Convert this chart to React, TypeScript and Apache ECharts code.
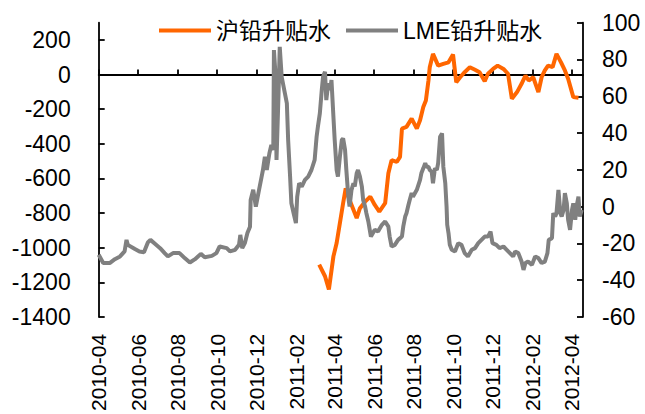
import React, { useEffect, useRef } from 'react';
import * as echarts from 'echarts';

const seriesNames = ['沪铅升贴水', 'LME铅升贴水'];

const shfeDates = [
  '2011-03-08', '2011-03-17', '2011-03-23', '2011-03-30', '2011-04-04', '2011-04-09', '2011-04-14', '2011-04-18',
  '2011-04-24', '2011-04-30', '2011-05-05', '2011-05-10', '2011-05-18', '2011-05-26', '2011-06-02', '2011-06-09',
  '2011-06-18', '2011-06-23', '2011-06-28', '2011-07-06', '2011-07-11', '2011-07-14', '2011-07-21', '2011-07-29',
  '2011-08-06', '2011-08-11', '2011-08-16', '2011-08-20', '2011-08-24', '2011-08-26', '2011-08-31', '2011-09-08',
  '2011-09-16', '2011-09-24', '2011-10-01', '2011-10-06', '2011-10-12', '2011-10-19', '2011-10-27', '2011-11-04',
  '2011-11-11', '2011-11-19', '2011-11-24', '2011-12-02', '2011-12-09', '2011-12-18', '2011-12-25', '2011-12-31',
  '2012-01-08', '2012-01-15', '2012-01-21', '2012-01-26', '2012-02-02', '2012-02-10', '2012-02-15', '2012-02-20',
  '2012-02-25', '2012-03-03', '2012-03-09', '2012-03-16', '2012-03-22', '2012-03-27', '2012-04-04', '2012-04-12',
];
const shfeValues = [
  -1098, -1165, -1241, -1050, -973, -858, -743, -657,
  -724, -781, -829, -772, -734, -705, -753, -791,
  -743, -570, -494, -504, -475, -312, -302, -254,
  -312, -264, -187, -149, -34, 43, 120, 52,
  62, 71, 116, -44, -15, 14, 43, 28,
  14, -38, 5, 33, 52, 33, 5, -139,
  -101, -53, -5, -34, -15, -101, -15, 24,
  52, 43, 120, 71, 24, -24, -130, -133,
];

const lmeDates = [
  '2010-04-01', '2010-04-08', '2010-04-18', '2010-04-26', '2010-05-04', '2010-05-11', '2010-05-14', '2010-05-16',
  '2010-05-27', '2010-06-03', '2010-06-10', '2010-06-16', '2010-06-20', '2010-06-27', '2010-07-05', '2010-07-12',
  '2010-07-17', '2010-07-25', '2010-08-04', '2010-08-12', '2010-08-20', '2010-08-28', '2010-09-06', '2010-09-12',
  '2010-09-23', '2010-09-30', '2010-10-05', '2010-10-16', '2010-10-21', '2010-10-29', '2010-11-04', '2010-11-06',
  '2010-11-09', '2010-11-13', '2010-11-17', '2010-11-21', '2010-11-22', '2010-11-26', '2010-11-30', '2010-12-04',
  '2010-12-09', '2010-12-11', '2010-12-14', '2010-12-17', '2010-12-21', '2010-12-24', '2010-12-27', '2010-12-28',
  '2010-12-30', '2011-01-01', '2011-01-04', '2011-01-06', '2011-01-09', '2011-01-14', '2011-01-17', '2011-01-19',
  '2011-01-22', '2011-01-24', '2011-01-28', '2011-01-31', '2011-02-02', '2011-02-05', '2011-02-09', '2011-02-14',
  '2011-02-19', '2011-02-24', '2011-03-01', '2011-03-04', '2011-03-06', '2011-03-09', '2011-03-12', '2011-03-14',
  '2011-03-17', '2011-03-19', '2011-03-22', '2011-03-25', '2011-03-27', '2011-03-30', '2011-04-01', '2011-04-04',
  '2011-04-06', '2011-04-09', '2011-04-12', '2011-04-14', '2011-04-17', '2011-04-19', '2011-04-22', '2011-04-24',
  '2011-04-27', '2011-04-30', '2011-05-02', '2011-05-05', '2011-05-07', '2011-05-10', '2011-05-13', '2011-05-15',
  '2011-05-18', '2011-05-20', '2011-05-23', '2011-05-27', '2011-06-02', '2011-06-07', '2011-06-13', '2011-06-18',
  '2011-06-23', '2011-06-25', '2011-06-28', '2011-07-03', '2011-07-08', '2011-07-14', '2011-07-16', '2011-07-19',
  '2011-07-21', '2011-07-24', '2011-07-26', '2011-07-29', '2011-07-31', '2011-08-06', '2011-08-11', '2011-08-13',
  '2011-08-16', '2011-08-19', '2011-08-21', '2011-08-24', '2011-08-26', '2011-08-29', '2011-08-31', '2011-09-03',
  '2011-09-06', '2011-09-08', '2011-09-11', '2011-09-14', '2011-09-16', '2011-09-19', '2011-09-21', '2011-09-22',
  '2011-09-24', '2011-09-26', '2011-09-29', '2011-10-04', '2011-10-09', '2011-10-14', '2011-10-19', '2011-10-24',
  '2011-10-30', '2011-11-04', '2011-11-09', '2011-11-14', '2011-11-19', '2011-11-24', '2011-11-28', '2011-12-01',
  '2011-12-07', '2011-12-12', '2011-12-18', '2011-12-23', '2011-12-28', '2012-01-02', '2012-01-05', '2012-01-10',
  '2012-01-15', '2012-01-18', '2012-01-21', '2012-01-25', '2012-01-31', '2012-02-05', '2012-02-10', '2012-02-15',
  '2012-02-20', '2012-02-24', '2012-02-26', '2012-03-02', '2012-03-04', '2012-03-07', '2012-03-09', '2012-03-12',
  '2012-03-15', '2012-03-17', '2012-03-20', '2012-03-22', '2012-03-25', '2012-03-27', '2012-03-30', '2012-04-02',
  '2012-04-04', '2012-04-07', '2012-04-09', '2012-04-12', '2012-04-14', '2012-04-17',
];
const lmeValues = [
  -26.2, -30.7, -30.7, -28.6, -27.1, -24.4, -18.1, -20.8,
  -23.1, -24.4, -24.8, -19.5, -18.1, -20.2, -22.6, -25.3,
  -27.1, -25.3, -25.3, -28.0, -30.4, -28.6, -25.7, -27.5,
  -26.8, -25.3, -21.7, -22.6, -24.4, -23.5, -20.8, -15.4,
  -22.6, -19.9, -14.4, -10.9, 3.6, 9.1, 0, 7.3,
  16.3, 19.9, 27.1, 19.9, 29.0, 33.5, 30.8, 85.1,
  74.2, 25.4, 59.7, 86.9, 70.6, 61.6, 56.1, 36.2,
  16.3, 1.8, -4.5, -9.0, 5.4, 12.7, 10.9, 14.5,
  16.3, 19.9, 25.4, 38.0, 43.4, 50.7, 63.4, 70.6,
  73.3, 57.9, 67.0, 63.4, 68.8, 48.9, 36.2, 19.9,
  16.3, 27.1, 36.2, 37.1, 30.8, 19.9, 5.4, 0,
  9.1, 12.7, 10.9, 18.1, 19.9, 16.3, 10.9, 3.6,
  0, -3.6, -8.1, -16.3, -12.6, -13.6, -9.9, -8.1,
  -10.9, -16.3, -21.7, -20.8, -18.1, -16.3, -10.9, -5.4,
  -3.6, 0.9, 3.6, 7.3, 5.4, 9.1, 14.5, 18.1,
  20.8, 23.6, 21.7, 21.7, 19.9, 19.0, 12.7, 20.8,
  19.9, 23.6, 38.0, 39.8, 21.7, 12.7, 0, -9.9,
  -14.4, -20.8, -23.5, -24.4, -19.9, -20.8, -25.3, -27.1,
  -23.5, -22.6, -19.9, -18.1, -16.3, -16.3, -13.6, -19.9,
  -20.8, -22.6, -21.7, -23.5, -25.3, -27.1, -24.4, -25.3,
  -29.9, -34.4, -30.7, -29.9, -31.7, -27.1, -28.0, -30.7,
  -29.9, -25.3, -18.1, -17.2, -3.6, -5.4, -3.6, 9.1,
  -3.6, -5.4, -1.8, 7.3, 1.8, -7.2, -12.6, -1.8,
  1.8, -7.2, 0, 5.4, -5.4, -1.8,
];

const monthTicks = [
  '2010-04', '2010-06', '2010-08', '2010-10', '2010-12', '2011-02', '2011-04',
  '2011-06', '2011-08', '2011-10', '2011-12', '2012-02', '2012-04',
];
const leftTicks = [-1400, -1200, -1000, -800, -600, -400, -200, 0, 200];
const rightTicks = [-60, -40, -20, 0, 20, 40, 60, 80, 100];
const axisStart = '2010-04-01';
const axisEnd = '2012-04-19';

const toTime = (s: string) => {
  const [y, m, d] = s.split('-').map(Number);
  return Date.UTC(y, m - 1, d || 1);
};

export default function App() {
  const ref = useRef<HTMLDivElement>(null);
  useEffect(() => {
    if (!ref.current) return;
    const chart = echarts.init(ref.current, undefined, { renderer: 'svg' });
    const font = "'Liberation Sans', Arial, 'Noto Sans CJK SC', sans-serif";
    const tickTimes = monthTicks.map(toTime);
    const xMin = toTime(axisStart);
    const xMax = toTime(axisEnd);
    const axisLineStyle = { color: '#000', width: 1.8 };
    const plain = (v: number) => String(v);
    const option: any = {
      animation: false,
      backgroundColor: '#fff',
      textStyle: { fontFamily: font },
      legend: {
        left: 159,
        top: 19,
        padding: 0,
        itemGap: 15,
        itemWidth: 52,
        itemHeight: 4,
        icon: 'rect',
        textStyle: { fontSize: 23, color: '#000', fontFamily: font },
        data: seriesNames,
      },
      grid: { left: 98.7, right: 62, top: 22.7, bottom: 96.3, containLabel: false },
      xAxis: [
        {
          type: 'value',
          min: xMin,
          max: xMax,
          position: 'bottom',
          axisLine: { show: false, onZero: false },
          axisTick: { show: false },
          splitLine: { show: false },
          axisLabel: {
            rotate: 90,
            margin: 17,
            fontSize: 21,
            color: '#000',
            fontFamily: font,
            customValues: tickTimes,
            hideOverlap: false,
            showMinLabel: true,
            showMaxLabel: true,
            formatter: (v: number) => {
              const i = tickTimes.indexOf(v);
              return i >= 0 ? monthTicks[i] : '';
            },
          },
        },
        {
          type: 'value',
          min: xMin,
          max: xMax,
          position: 'bottom',
          axisLine: { show: true, onZero: true, onZeroAxisIndex: 0, lineStyle: axisLineStyle },
          axisTick: { show: true, inside: true, length: 5, customValues: tickTimes, lineStyle: axisLineStyle },
          axisLabel: { show: false },
          splitLine: { show: false },
        },
      ],
      yAxis: [
        {
          type: 'value',
          min: -1400,
          max: 300,
          interval: 200,
          position: 'left',
          axisLine: { show: true, lineStyle: axisLineStyle },
          axisTick: { show: true, inside: true, length: 6, customValues: leftTicks, lineStyle: axisLineStyle },
          axisLabel: { customValues: leftTicks, formatter: plain, margin: 28, fontSize: 23, color: '#000', fontFamily: font },
          splitLine: { show: false },
        },
        {
          type: 'value',
          min: -60,
          max: 100,
          interval: 20,
          position: 'right',
          axisLine: { show: true, lineStyle: axisLineStyle },
          axisTick: { show: true, inside: true, length: 6, customValues: rightTicks, lineStyle: axisLineStyle },
          axisLabel: { customValues: rightTicks, formatter: plain, margin: 19, fontSize: 23, color: '#000', fontFamily: font },
          splitLine: { show: false },
        },
      ],
      series: [
        {
          name: seriesNames[0],
          type: 'line',
          xAxisIndex: 0,
          yAxisIndex: 0,
          showSymbol: false,
          symbol: 'none',
          data: shfeDates.map((d, i) => [toTime(d), shfeValues[i]]),
          lineStyle: { color: '#FF6600', width: 4 },
          itemStyle: { color: '#FF6600' },
        },
        {
          name: seriesNames[1],
          type: 'line',
          xAxisIndex: 0,
          yAxisIndex: 1,
          showSymbol: false,
          symbol: 'none',
          data: lmeDates.map((d, i) => [toTime(d), lmeValues[i]]),
          lineStyle: { color: '#808080', width: 4 },
          itemStyle: { color: '#808080' },
        },
      ],
    };
    chart.setOption(option);
    return () => chart.dispose();
  }, []);
  return (
    <div
      ref={ref}
      style={{ position: 'absolute', left: 0, top: 0, width: 645, height: 414 }}
    />
  );
}
